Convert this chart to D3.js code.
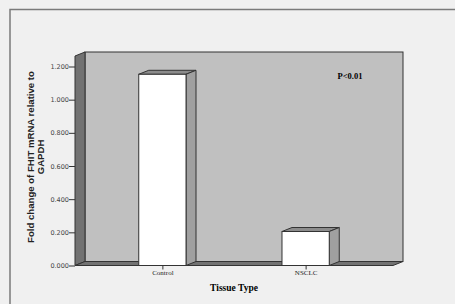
<!DOCTYPE html>
<html>
<head>
<meta charset="utf-8">
<script src="https://cdn.jsdelivr.net/npm/d3@7"></script>
<style>
  body { margin: 0; background: #f0f0f0; }
</style>
</head>
<body>
<svg id="plot"></svg>
<script>
// Data
var categories = ["Control", "NSCLC"];
var values = [1.153, 0.205];
var yTicks = [0, 0.2, 0.4, 0.6, 0.8, 1.0, 1.2];

var width = 455, height = 304;
var plotLeft = 75, plotRight = 393, plotBottom = 265.5, plotTop = 66.5;
var dx = 10, dy = -4;   // 3D depth offset

var svg = d3.select('#plot')
  .attr('width', width)
  .attr('height', height);

// outer frame
svg.append('rect')
  .attr('x', 10).attr('y', 9.5)
  .attr('width', 460).attr('height', 310)
  .attr('fill', '#f0f0f0')
  .attr('stroke', '#7a7a7a')
  .attr('stroke-width', 1.5);

var xScale = d3.scalePoint()
  .domain(categories)
  .range([plotLeft, plotRight])
  .padding(0.61);

var yScale = d3.scaleLinear()
  .domain([0, 1.2])
  .range([plotBottom, plotTop]);

var wallTop = yScale(1.2) - 10.5;
var barW = xScale.step() * 0.33;

// back wall
svg.append('rect')
  .attr('x', plotLeft + dx).attr('y', wallTop + dy)
  .attr('width', plotRight - plotLeft).attr('height', plotBottom - wallTop)
  .attr('fill', '#c0c0c0')
  .attr('stroke', '#333').attr('stroke-width', 1);

// left wall
svg.append('polygon')
  .attr('points', [[plotLeft, wallTop], [plotLeft + dx, wallTop + dy], [plotLeft + dx, plotBottom + dy], [plotLeft, plotBottom]].join(' '))
  .attr('fill', '#727272')
  .attr('stroke', '#333').attr('stroke-width', 1);

// floor
svg.append('polygon')
  .attr('points', [[plotLeft, plotBottom], [plotLeft + dx, plotBottom + dy], [plotRight + dx, plotBottom + dy], [plotRight, plotBottom]].join(' '))
  .attr('fill', '#727272')
  .attr('stroke', '#333').attr('stroke-width', 1);

// bars
var bars = svg.selectAll('.bar')
  .data(categories)
  .enter().append('g')
  .attr('class', 'bar');

bars.append('polygon')
  .attr('points', function(d, i) {
    var x0 = xScale(d) - barW / 2, x1 = xScale(d) + barW / 2, y = yScale(values[i]);
    return [[x0, y], [x0 + dx, y + dy], [x1 + dx, y + dy], [x1, y]].join(' ');
  })
  .attr('fill', '#8c8c8c')
  .attr('stroke', '#333').attr('stroke-width', 1);

bars.append('polygon')
  .attr('points', function(d, i) {
    var x1 = xScale(d) + barW / 2, y = yScale(values[i]);
    return [[x1, y], [x1 + dx, y + dy], [x1 + dx, plotBottom + dy], [x1, plotBottom]].join(' ');
  })
  .attr('fill', '#a0a0a0')
  .attr('stroke', '#333').attr('stroke-width', 1);

bars.append('rect')
  .attr('x', function(d) { return xScale(d) - barW / 2; })
  .attr('y', function(d, i) { return yScale(values[i]); })
  .attr('width', barW)
  .attr('height', function(d, i) { return plotBottom - yScale(values[i]); })
  .attr('fill', '#ffffff')
  .attr('stroke', '#333').attr('stroke-width', 1);

// Y axis
var yAxis = svg.append('g')
  .attr('transform', 'translate(' + plotLeft + ',0)')
  .call(d3.axisLeft(yScale).tickValues(yTicks).tickFormat(d3.format('.3f')).tickSize(6).tickSizeOuter(0));
yAxis.select('.domain').remove();
yAxis.selectAll('line').attr('stroke', '#333');
yAxis.selectAll('text')
  .attr('x', -6)
  .style('font-family', 'DejaVu Sans, sans-serif')
  .style('font-size', '6.5px')
  .attr('fill', '#444');

// X axis
var xAxis = svg.append('g')
  .attr('transform', 'translate(0,' + plotBottom + ')')
  .call(d3.axisBottom(xScale).tickSize(4).tickSizeOuter(0));
xAxis.select('.domain').remove();
xAxis.selectAll('line').attr('stroke', '#333');
xAxis.selectAll('text')
  .attr('y', 5)
  .style('font-family', 'Liberation Serif, serif')
  .style('font-size', '7px')
  .attr('fill', '#222');

// X axis label
svg.append('text')
  .attr('x', (plotLeft + plotRight) / 2)
  .attr('y', 291)
  .attr('text-anchor', 'middle')
  .style('font-family', 'Liberation Serif, serif')
  .style('font-weight', 'bold')
  .style('font-size', '9.5px')
  .text('Tissue Type');

// Y axis label
var yl = svg.append('text')
  .attr('transform', 'translate(34,' + ((plotTop + plotBottom) / 2 - 9) + ') rotate(-90)')
  .attr('text-anchor', 'middle')
  .style('font-family', 'Liberation Sans, Arial, sans-serif')
  .style('font-weight', 'bold')
  .style('font-size', '9.6px')
  .attr('fill', '#222');
yl.append('tspan').attr('x', 0).attr('y', 0).text('Fold change of FHIT mRNA relative to');
yl.append('tspan').attr('x', 0).attr('y', 9.5).text('GAPDH');

// annotation
svg.append('text')
  .attr('x', 350)
  .attr('y', 79)
  .attr('text-anchor', 'middle')
  .style('font-family', 'Liberation Serif, serif')
  .style('font-weight', 'bold')
  .style('font-size', '8.5px')
  .text('P<0.01');
</script>
</body>
</html>
